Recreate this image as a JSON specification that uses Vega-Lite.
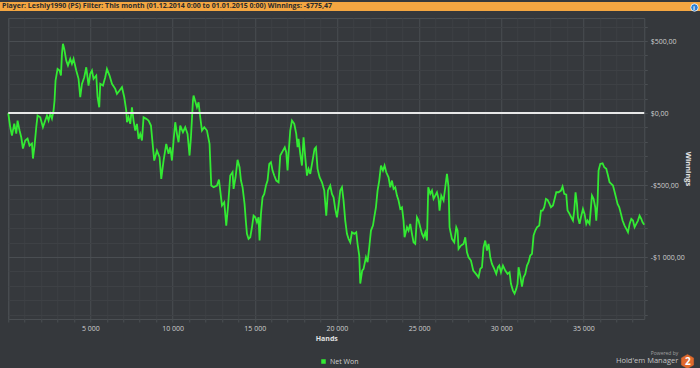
{
  "$schema": "https://vega.github.io/schema/vega-lite/v6.json",
  "background": "#35383c",
  "padding": 0,
  "spacing": 5,
  "center": true,
  "config": {
    "font": "Open Sans",
    "view": {"stroke": null}
  },
  "vconcat": [
    {
      "width": 700,
      "height": 9,
      "view": {"fill": "#f4a641", "stroke": null},
      "title": {
        "text": "Player: Leshiy1990 (PS)  Filter: This month (01.12.2014 0:00 to 01.01.2015 0:00)  Winnings: -$775,47",
        "anchor": "start",
        "orient": "top",
        "frame": "group",
        "offset": -8,
        "dx": 2,
        "fontSize": 7,
        "fontWeight": "bold",
        "color": "#2b2b2b"
      },
      "data": {"values": [{"icon": "i"}]},
      "mark": {"type": "text", "opacity": 0},
      "encoding": {"text": {"field": "icon"}}
    },
    {
      "width": 636,
      "height": 301,
      "view": {"stroke": "#4b4f53", "fill": "#36393d"},
      "title": {
        "text": "Powered by",
        "subtitle": "Hold'em Manager",
        "orient": "bottom",
        "anchor": "end",
        "offset": 10,
        "dx": -13,
        "fontSize": 5,
        "fontWeight": "normal",
        "color": "#a0a0a0",
        "subtitleFontSize": 7.5,
        "subtitleColor": "#c4c4c4",
        "subtitlePadding": 1
      },
      "encoding": {
        "y": {
          "field": "w",
          "type": "quantitative",
          "scale": {"domain": [-1430, 660], "nice": false, "zero": false},
          "axis": {
            "orient": "right",
            "title": "Winnings",
            "values": [-1400,-1300,-1200,-1100,-1000,-900,-800,-700,-600,-500,-400,-300,-200,-100,0,100,200,300,400,500,600],
            "labelExpr": "datum.value === 500 ? '\\u0024500,00' : datum.value === 0 ? '\\u00240,00' : datum.value === -500 ? '-\\u0024500,00' : datum.value === -1000 ? '-\\u00241 000,00' : ''",
            "grid": true,
            "gridColor": {"condition": {"test": "datum.value % 500 === 0", "value": "#4a4e52"}, "value": "#3e4145"},
            "domain": false,
            "ticks": true,
            "tickSize": 3,
            "tickColor": "#4a4e52",
            "labelPadding": 3,
            "labelFontSize": 7,
            "labelColor": "#cfcfcf",
            "labelOverlap": false,
            "labelSeparation": 0,
            "minExtent": 36,
            "maxExtent": 36,
            "titleFontSize": 7.5,
            "titleFontWeight": "bold",
            "titleColor": "#e2e2e2",
            "titlePadding": 3
          }
        }
      },
      "layer": [
        {
          "data": {"values": [
{"h":0,"w":0},{"h":122,"w":-98.6},{"h":225,"w":-156.2},{"h":365,"w":-72.9},{"h":487,"w":-142.4},{"h":566,"w":-52.1},{"h":688,"w":-121.5},{"h":791,"w":-168.0},{"h":894,"w":-246.5},{"h":1034,"w":-191.0},{"h":1174,"w":-177.1},{"h":1296,"w":-225.7},{"h":1442,"w":-211.8},{"h":1503,"w":-316.0},{"h":1600,"w":-225.7},{"h":1704,"w":-98.6},{"h":1783,"w":-17.4},{"h":1947,"w":-29.2},{"h":2111,"w":-98.6},{"h":2251,"w":-52.1},{"h":2355,"w":-17.4},{"h":2452,"w":-52.1},{"h":2556,"w":-5.6},{"h":2659,"w":-38.2},{"h":2757,"w":17.4},{"h":2817,"w":86.8},{"h":2878,"w":225.7},{"h":3000,"w":306.9},{"h":3122,"w":295.1},{"h":3207,"w":260.4},{"h":3268,"w":411.1},{"h":3328,"w":480.5},{"h":3408,"w":445.8},{"h":3529,"w":364.6},{"h":3633,"w":329.8},{"h":3773,"w":376.4},{"h":3876,"w":341.6},{"h":3974,"w":376.4},{"h":4138,"w":295.1},{"h":4278,"w":237.5},{"h":4381,"w":109.7},{"h":4485,"w":202.8},{"h":4625,"w":248.6},{"h":4746,"w":318.0},{"h":4886,"w":191.0},{"h":4990,"w":272.2},{"h":5093,"w":295.1},{"h":5191,"w":237.5},{"h":5355,"w":260.4},{"h":5434,"w":109.7},{"h":5537,"w":40.3},{"h":5598,"w":202.8},{"h":5763,"w":191.0},{"h":5902,"w":248.6},{"h":6006,"w":306.9},{"h":6164,"w":260.4},{"h":6310,"w":202.8},{"h":6511,"w":168.0},{"h":6614,"w":133.3},{"h":6773,"w":156.2},{"h":6919,"w":179.2},{"h":7059,"w":109.7},{"h":7180,"w":17.4},{"h":7223,"w":-63.9},{"h":7320,"w":-29.2},{"h":7424,"w":-75.0},{"h":7527,"w":40.3},{"h":7625,"w":-52.1},{"h":7728,"w":-121.5},{"h":7831,"w":-75.0},{"h":7929,"w":-179.2},{"h":8032,"w":-144.4},{"h":8136,"w":-191.0},{"h":8233,"w":-29.2},{"h":8397,"w":-40.3},{"h":8537,"w":-52.1},{"h":8683,"w":-86.8},{"h":8805,"w":-237.5},{"h":8884,"w":-329.8},{"h":9048,"w":-260.4},{"h":9207,"w":-306.9},{"h":9310,"w":-456.9},{"h":9450,"w":-329.8},{"h":9614,"w":-213.9},{"h":9754,"w":-283.3},{"h":9858,"w":-237.5},{"h":9961,"w":-329.8},{"h":10059,"w":-191.0},{"h":10162,"w":-63.9},{"h":10265,"w":-144.4},{"h":10363,"w":-202.8},{"h":10466,"w":-86.8},{"h":10630,"w":-133.3},{"h":10770,"w":-98.6},{"h":10910,"w":-144.4},{"h":11032,"w":-295.1},{"h":11117,"w":-168.0},{"h":11239,"w":86.8},{"h":11276,"w":121.5},{"h":11482,"w":40.3},{"h":11580,"w":75.0},{"h":11683,"w":-29.2},{"h":11787,"w":-121.5},{"h":11927,"w":-98.6},{"h":12091,"w":-121.5},{"h":12249,"w":-213.9},{"h":12353,"w":-503.4},{"h":12493,"w":-515.2},{"h":12699,"w":-503.4},{"h":12821,"w":-461.8},{"h":12900,"w":-538.2},{"h":13004,"w":-642.3},{"h":13144,"w":-619.4},{"h":13265,"w":-781.2},{"h":13369,"w":-654.1},{"h":13509,"w":-434.0},{"h":13649,"w":-411.1},{"h":13710,"w":-526.4},{"h":13831,"w":-445.8},{"h":13953,"w":-325.0},{"h":14075,"w":-376.4},{"h":14160,"w":-468.7},{"h":14257,"w":-515.2},{"h":14379,"w":-630.5},{"h":14464,"w":-758.3},{"h":14525,"w":-838.8},{"h":14622,"w":-873.6},{"h":14726,"w":-862.4},{"h":14829,"w":-793.0},{"h":14927,"w":-711.8},{"h":15030,"w":-723.6},{"h":15133,"w":-758.3},{"h":15231,"w":-723.6},{"h":15292,"w":-885.4},{"h":15377,"w":-700.0},{"h":15474,"w":-584.7},{"h":15578,"w":-561.1},{"h":15681,"w":-503.4},{"h":15778,"w":-468.7},{"h":15882,"w":-352.8},{"h":15985,"w":-341.6},{"h":16083,"w":-399.3},{"h":16186,"w":-434.0},{"h":16308,"w":-468.7},{"h":16448,"w":-480.5},{"h":16551,"w":-295.1},{"h":16715,"w":-260.4},{"h":16826,"w":-237.5},{"h":16916,"w":-272.2},{"h":16995,"w":-399.3},{"h":17056,"w":-283.3},{"h":17159,"w":-121.5},{"h":17264,"w":-52.1},{"h":17403,"w":-75.0},{"h":17525,"w":-144.4},{"h":17604,"w":-237.5},{"h":17665,"w":-179.2},{"h":17768,"w":-283.3},{"h":17872,"w":-364.6},{"h":17969,"w":-168.0},{"h":18072,"w":-306.9},{"h":18176,"w":-434.0},{"h":18273,"w":-387.5},{"h":18377,"w":-422.2},{"h":18517,"w":-329.8},{"h":18638,"w":-248.6},{"h":18723,"w":-237.5},{"h":18821,"w":-387.5},{"h":18943,"w":-445.8},{"h":19089,"w":-480.5},{"h":19229,"w":-538.2},{"h":19350,"w":-711.8},{"h":19454,"w":-538.2},{"h":19594,"w":-503.4},{"h":19697,"w":-561.1},{"h":19795,"w":-584.7},{"h":19898,"w":-665.2},{"h":20001,"w":-723.6},{"h":20099,"w":-642.3},{"h":20202,"w":-538.2},{"h":20306,"w":-515.2},{"h":20403,"w":-607.6},{"h":20506,"w":-746.5},{"h":20610,"w":-838.8},{"h":20708,"w":-873.6},{"h":20811,"w":-897.2},{"h":20914,"w":-827.7},{"h":21054,"w":-838.8},{"h":21176,"w":-827.7},{"h":21255,"w":-908.3},{"h":21358,"w":-989.5},{"h":21419,"w":-1184.0},{"h":21536,"w":-1093.7},{"h":21620,"w":-1081.9},{"h":21766,"w":-1001.3},{"h":21863,"w":-1036.0},{"h":21967,"w":-931.9},{"h":22070,"w":-815.9},{"h":22192,"w":-781.2},{"h":22270,"w":-723.6},{"h":22374,"w":-654.1},{"h":22472,"w":-538.2},{"h":22575,"w":-468.7},{"h":22679,"w":-364.6},{"h":22800,"w":-399.3},{"h":22898,"w":-364.6},{"h":23001,"w":-411.1},{"h":23141,"w":-445.8},{"h":23245,"w":-515.2},{"h":23348,"w":-468.7},{"h":23446,"w":-526.4},{"h":23549,"w":-515.2},{"h":23652,"w":-572.9},{"h":23750,"w":-607.6},{"h":23853,"w":-665.2},{"h":23957,"w":-654.1},{"h":24054,"w":-746.5},{"h":24115,"w":-862.4},{"h":24261,"w":-793.0},{"h":24358,"w":-815.9},{"h":24461,"w":-769.4},{"h":24565,"w":-838.8},{"h":24662,"w":-897.2},{"h":24766,"w":-908.3},{"h":24869,"w":-723.6},{"h":24967,"w":-746.5},{"h":25070,"w":-793.0},{"h":25174,"w":-838.8},{"h":25271,"w":-862.4},{"h":25375,"w":-827.7},{"h":25478,"w":-885.4},{"h":25557,"w":-515.2},{"h":25679,"w":-561.1},{"h":25782,"w":-538.2},{"h":25880,"w":-595.8},{"h":26086,"w":-550.0},{"h":26184,"w":-595.8},{"h":26244,"w":-677.0},{"h":26349,"w":-572.9},{"h":26489,"w":-607.6},{"h":26591,"w":-515.2},{"h":26695,"w":-422.2},{"h":26792,"w":-515.2},{"h":26853,"w":-793.0},{"h":26998,"w":-873.6},{"h":27139,"w":-897.2},{"h":27261,"w":-793.0},{"h":27340,"w":-815.9},{"h":27401,"w":-943.0},{"h":27547,"w":-920.1},{"h":27705,"w":-908.3},{"h":27809,"w":-862.4},{"h":27912,"w":-966.6},{"h":28009,"w":-1001.3},{"h":28155,"w":-1024.2},{"h":28294,"w":-1093.7},{"h":28460,"w":-1116.6},{"h":28618,"w":-1140.2},{"h":28721,"w":-1081.9},{"h":28824,"w":-1070.8},{"h":28922,"w":-931.9},{"h":29025,"w":-885.4},{"h":29129,"w":-954.8},{"h":29226,"w":-908.3},{"h":29330,"w":-1001.3},{"h":29433,"w":-1047.2},{"h":29573,"w":-1081.9},{"h":29695,"w":-1116.6},{"h":29798,"w":-1070.8},{"h":29878,"w":-1059.0},{"h":29982,"w":-1105.5},{"h":30102,"w":-1059.0},{"h":30243,"w":-1093.7},{"h":30382,"w":-1116.6},{"h":30504,"w":-1105.5},{"h":30589,"w":-1186.0},{"h":30711,"w":-1232.6},{"h":30808,"w":-1253.4},{"h":30912,"w":-1220.8},{"h":30990,"w":-1186.0},{"h":31052,"w":-1070.8},{"h":31155,"w":-1128.4},{"h":31259,"w":-1204.8},{"h":31356,"w":-1140.2},{"h":31460,"w":-1116.6},{"h":31564,"w":-1059.0},{"h":31661,"w":-1036.0},{"h":31764,"w":-989.5},{"h":31868,"w":-977.7},{"h":31966,"w":-850.6},{"h":32069,"w":-815.9},{"h":32172,"w":-793.0},{"h":32312,"w":-781.2},{"h":32415,"w":-677.0},{"h":32513,"w":-677.0},{"h":32616,"w":-654.1},{"h":32719,"w":-595.8},{"h":32817,"w":-602.7},{"h":32938,"w":-630.5},{"h":33023,"w":-654.1},{"h":33145,"w":-642.3},{"h":33224,"w":-607.6},{"h":33346,"w":-550.0},{"h":33486,"w":-550.0},{"h":33632,"w":-538.2},{"h":33729,"w":-510.4},{"h":33833,"w":-561.1},{"h":33954,"w":-565.9},{"h":34033,"w":-677.0},{"h":34155,"w":-700.0},{"h":34259,"w":-723.6},{"h":34362,"w":-746.5},{"h":34441,"w":-677.0},{"h":34520,"w":-550.0},{"h":34605,"w":-630.5},{"h":34666,"w":-723.6},{"h":34764,"w":-769.4},{"h":34849,"w":-723.6},{"h":34971,"w":-665.2},{"h":35068,"w":-700.0},{"h":35172,"w":-769.4},{"h":35250,"w":-746.5},{"h":35372,"w":-769.4},{"h":35518,"w":-572.9},{"h":35616,"w":-595.8},{"h":35719,"w":-654.1},{"h":35780,"w":-746.5},{"h":35859,"w":-619.4},{"h":35920,"w":-399.3},{"h":36024,"w":-352.8},{"h":36163,"w":-348.6},{"h":36268,"w":-376.4},{"h":36389,"w":-387.5},{"h":36493,"w":-434.0},{"h":36589,"w":-480.5},{"h":36693,"w":-491.6},{"h":36796,"w":-503.4},{"h":36875,"w":-538.2},{"h":36978,"w":-584.7},{"h":37076,"w":-630.5},{"h":37180,"w":-654.1},{"h":37283,"w":-700.0},{"h":37381,"w":-746.5},{"h":37502,"w":-781.2},{"h":37607,"w":-804.1},{"h":37710,"w":-827.7},{"h":37808,"w":-769.4},{"h":37911,"w":-734.7},{"h":38013,"w":-746.5},{"h":38111,"w":-793.0},{"h":38215,"w":-769.4},{"h":38318,"w":-746.5},{"h":38415,"w":-711.8},{"h":38519,"w":-734.7},{"h":38598,"w":-758.3},{"h":38700,"w":-775.47}
          ]},
          "mark": {"type": "line", "strokeWidth": 1.8, "strokeJoin": "miter", "interpolate": "linear"},
          "encoding": {
            "x": {
              "field": "h",
              "type": "quantitative",
              "scale": {"domain": [0, 38700], "nice": false, "zero": false},
              "axis": {
                "title": "Hands",
                "values": [0,1000,2000,3000,4000,5000,6000,7000,8000,9000,10000,11000,12000,13000,14000,15000,16000,17000,18000,19000,20000,21000,22000,23000,24000,25000,26000,27000,28000,29000,30000,31000,32000,33000,34000,35000,36000,37000,38000],
                "labelExpr": "datum.value % 5000 === 0 && datum.value > 0 ? floor(datum.value / 1000) + ' 000' : ''",
                "grid": true,
                "gridColor": {"condition": {"test": "datum.value % 5000 === 0", "value": "#4a4e52"}, "value": "#3e4145"},
                "domain": false,
                "ticks": true,
                "tickSize": 3,
                "tickColor": "#4a4e52",
                "labelPadding": 2,
                "labelFontSize": 7,
                "labelColor": "#cfcfcf",
                "labelFlush": false,
                "labelOverlap": false,
                "titleFontSize": 7,
                "titleFontWeight": "bold",
                "titleColor": "#e2e2e2",
                "titlePadding": 3
              }
            },
            "color": {
              "datum": "Net Won",
              "type": "nominal",
              "scale": {"domain": ["Net Won"], "range": ["#33ea33"]},
              "legend": {
                "orient": "none",
                "legendX": 320,
                "legendY": 356,
                "title": null,
                "symbolType": "square",
                "symbolSize": 16,
                "symbolFillColor": "#33ea33",
                "symbolStrokeColor": "#33ea33",
                "symbolStrokeWidth": 0.5,
                "labelFontSize": 7,
                "labelColor": "#cfcfcf",
                "labelOffset": 3,
                "padding": 0
              }
            }
          }
        },
        {
          "data": {"values": [{"w": 0, "logo": "2", "info": "i"}]},
          "mark": {"type": "rule", "color": "#e8e8e8", "strokeWidth": 2},
          "encoding": {
            "strokeDash": {
              "field": "logo",
              "type": "nominal",
              "scale": {"domain": ["2"], "range": [[1, 0]]},
              "legend": {
                "orient": "none",
                "legendX": 680,
                "legendY": 352,
                "title": null,
                "symbolType": "M0,-1L0.866,-0.5L0.866,0.5L0,1L-0.866,0.5L-0.866,-0.5Z",
                "symbolSize": 200,
                "symbolFillColor": "#e0692c",
                "symbolStrokeColor": "#e0692c",
                "symbolStrokeWidth": 0.5,
                "symbolDash": [1, 0],
                "labelColor": "#ffffff",
                "labelFontSize": 10,
                "labelFontWeight": "bold",
                "labelOffset": -10,
                "padding": 0
              }
            },
            "opacity": {
              "field": "info",
              "type": "nominal",
              "scale": {"domain": ["i"], "range": [1]},
              "legend": {
                "orient": "none",
                "legendX": 690,
                "legendY": 1,
                "title": null,
                "symbolType": "circle",
                "symbolSize": 56,
                "symbolFillColor": "#2a7fd4",
                "symbolStrokeColor": "#ffffff",
                "symbolStrokeWidth": 0.8,
                "symbolOpacity": 1,
                "labelColor": "#ffffff",
                "labelFontSize": 6,
                "labelFontWeight": "bold",
                "labelOffset": -6,
                "padding": 0
              }
            }
          }
        }
      ]
    }
  ]
}
